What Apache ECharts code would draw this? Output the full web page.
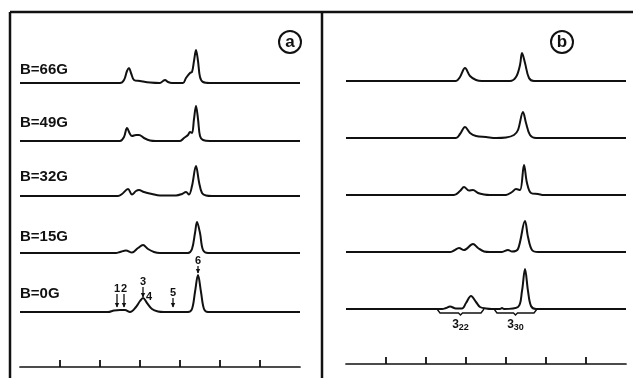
<!DOCTYPE html>
<html><head><meta charset="utf-8">
<script src="https://cdn.jsdelivr.net/npm/echarts@6/dist/echarts.min.js"></script>
<style>html,body{margin:0;padding:0;background:#fff}#c{width:633px;height:378px}</style>
</head><body><div id="c"></div>
<script>
// Field labels (top to bottom)
const fieldLabels = ['B=66G','B=49G','B=32G','B=15G','B=0G'];
// Baseline offsets of each trace (panel a and b), in px-like units above the axis
const offsetsA = [284, 226, 171, 114, 55];
const offsetsB = [283, 226, 169, 112, 55];
// Axis tick positions (arbitrary units)
const tickValues = [1, 2, 3, 4, 5, 6];
// Panel a spectra: [x, intensity]
const specA66 = [[0,0],[2.5,0],[2.6,3],[2.675,12],[2.725,15],[2.775,10],[2.85,3],[3.0,2],[3.25,0.5],[3.5,0],[3.575,2],[3.625,3],[3.7,1],[3.8,0],[4.075,0],[4.15,5],[4.25,10],[4.3,11],[4.35,22],[4.4,33],[4.45,22],[4.5,6],[4.575,1],[4.75,0],[7,0]];
const specA49 = [[0,0],[2.5,0],[2.6,4],[2.675,13],[2.75,7],[2.8,5],[2.9,6],[2.975,6],[3.1,3],[3.25,0.5],[3.4,0],[4.0,0],[4.1,3],[4.2,6],[4.25,9],[4.3,8],[4.35,22],[4.4,35],[4.45,22],[4.5,5],[4.575,1],[4.75,0],[7,0]];
const specA32 = [[0,0],[2.45,0],[2.55,2],[2.7,7],[2.8,1.5],[2.9,5],[2.975,6],[3.1,4],[3.3,2],[3.5,0.5],[3.9,0.5],[4.05,2],[4.15,4],[4.225,1.5],[4.3,10],[4.4,30],[4.475,14],[4.55,3],[4.65,0.5],[4.8,0],[7,0]];
const specA15 = [[0,0],[2.4,0],[2.5,1],[2.65,2.5],[2.8,0.5],[2.95,5],[3.075,8],[3.2,4],[3.35,1],[3.5,0],[4.2,0],[4.3,4],[4.375,20],[4.425,31],[4.5,20],[4.575,3],[4.7,0],[7,0]];
const specA0 = [[0,0],[2.2,0],[2.35,1.5],[2.5,2],[2.625,2],[2.75,0],[2.9,5],[3.0,11],[3.075,14],[3.175,9],[3.3,3],[3.45,0.5],[3.6,0],[4.2,0],[4.3,3],[4.375,20],[4.45,37],[4.525,20],[4.6,3],[4.7,0],[7,0]];
// Panel b spectra
const specB66 = [[0,0],[2.75,0],[2.85,4],[2.975,13],[3.1,5],[3.25,1],[3.4,0],[4.1,0],[4.25,4],[4.35,16],[4.4,28],[4.475,18],[4.575,3],[4.7,0],[7,0]];
const specB49 = [[0,0],[2.75,0],[2.85,4],[2.975,11],[3.1,5],[3.25,2],[3.5,1],[3.75,0],[4.0,0.5],[4.2,3],[4.3,8],[4.425,26],[4.5,15],[4.6,3],[4.75,0],[7,0]];
const specB32 = [[0,0],[2.7,0],[2.85,4],[2.95,8],[3.075,4.5],[3.175,5],[3.3,2],[3.45,0.5],[3.6,0],[4.0,0],[4.15,3],[4.25,6],[4.35,5],[4.45,30],[4.525,12],[4.625,2],[4.8,1],[4.95,0],[7,0]];
const specB15 = [[0,0],[2.6,0],[2.7,1.5],[2.825,4],[2.95,2],[3.175,8],[3.3,4],[3.45,0.5],[3.6,0],[3.9,0],[4.05,2],[4.15,0.5],[4.3,3],[4.475,31],[4.55,15],[4.65,2],[4.8,0],[7,0]];
const specB0 = [[0,0],[2.4,0],[2.5,1],[2.6,2.5],[2.75,0.5],[2.9,0.5],[3.0,6],[3.125,13],[3.25,7],[3.35,2],[3.5,0.5],[3.65,0],[3.85,0],[3.9,1],[3.95,0],[4.3,2],[4.4,18],[4.475,40],[4.55,18],[4.625,3],[4.75,0],[7,0]];
// Peak annotations in panel a (0G trace): [label, x, textY, arrowTop, arrowBottom]
const peakMarks = [['1',2.425,78,73,60],['2',2.6,78,73,60],['3',3.075,85,80,70],['4',3.225,70,null,null],['5',3.825,74,69,60],['6',4.45,106,101,94]];
// Brackets in panel b: [main, sub, xStart, xEnd, yLine, yEnd, yLabel]
const brackets = [['3','22',2.275,3.45,51,55,39],['3','30',3.7,4.775,51,55,39]];

const spectraA = [specA66, specA49, specA32, specA15, specA0];
const spectraB = [specB66, specB49, specB32, specB15, specB0];

const chart = echarts.init(document.getElementById('c'), null, {renderer:'canvas'});
const INK = '#111';
function mkSeries(specs, offs, idx){
  return specs.map((s,i)=>({
    type:'line', xAxisIndex:idx, yAxisIndex:idx, showSymbol:false, smooth:0.35,
    lineStyle:{color:INK, width:2}, silent:true, animation:false,
    data: s.map(p=>[p[0], p[1]+offs[i]])
  }));
}
function xAx(idx){
  return {gridIndex:idx, type:'value', min:0, max:7, interval:1,
    axisLine:{show:true, lineStyle:{color:INK, width:1.7}},
    axisTick:{show:true, inside:true, length:7, customValues:tickValues, lineStyle:{color:INK,width:1.8}},
    axisLabel:{show:false}, splitLine:{show:false}};
}
function yAx(idx){
  return {gridIndex:idx, type:'value', min:0, max:360, show:false};
}
chart.setOption({
  animation:false,
  grid:[{left:20, width:280, top:7, height:360}, {left:346, width:280, top:4, height:360}],
  xAxis:[xAx(0), xAx(1)],
  yAxis:[yAx(0), yAx(1)],
  series:[...mkSeries(spectraA, offsetsA, 0), ...mkSeries(spectraB, offsetsB, 1)]
});

const g = [];
// frame
g.push({type:'line', shape:{x1:10,y1:12,x2:633,y2:12}, style:{stroke:INK,lineWidth:2.5}});
g.push({type:'line', shape:{x1:10,y1:12,x2:10,y2:378}, style:{stroke:INK,lineWidth:2.5}});
g.push({type:'line', shape:{x1:322,y1:12,x2:322,y2:378}, style:{stroke:INK,lineWidth:2.5}});
// panel letters
[['a',290,42],['b',562,42]].forEach(([t,x,y])=>{
  g.push({type:'circle', shape:{cx:x,cy:y,r:11}, style:{fill:'none',stroke:INK,lineWidth:2}});
  g.push({type:'text', x:x, y:y, style:{text:t, font:'bold 17px "Liberation Sans", Arial, sans-serif', fill:INK, align:'center', verticalAlign:'middle'}});
});
// field labels
const labelY = [70, 123, 177, 237, 294];
fieldLabels.forEach((t,i)=>{
  g.push({type:'text', x:20, y:labelY[i], style:{text:t, font:'bold 15px "Liberation Sans", Arial, sans-serif', fill:INK, align:'left', verticalAlign:'middle'}});
});
function px(gi, x, y){ return chart.convertToPixel({gridIndex:gi}, [x,y]); }
// peak markers
peakMarks.forEach(([t,x,ty,a1,a2])=>{
  const p = px(0,x,ty);
  g.push({type:'text', x:p[0], y:p[1], style:{text:t, font:'bold 11px "Liberation Sans", Arial, sans-serif', fill:INK, align:'center', verticalAlign:'middle'}});
  if(a1!==null){
    const s = px(0,x,a1), e = px(0,x,a2);
    g.push({type:'line', shape:{x1:s[0],y1:s[1],x2:e[0],y2:e[1]}, style:{stroke:INK,lineWidth:1.3}});
    g.push({type:'polygon', shape:{points:[[e[0]-2.2,e[1]-4],[e[0]+2.2,e[1]-4],[e[0],e[1]+0.5]]}, style:{fill:INK}});
  }
});
// brackets
brackets.forEach(([m,s,x1,x2,yl,ye,ylab])=>{
  const a = px(1,x1,ye), b = px(1,x1,yl), c = px(1,x2,yl), d = px(1,x2,ye);
  const mid = px(1,(x1+x2)/2,yl);
  g.push({type:'polyline', shape:{points:[a,[b[0]+3,b[1]],[mid[0]-2,mid[1]],[mid[0],mid[1]+2],[mid[0]+2,mid[1]],[c[0]-3,c[1]],d]}, style:{stroke:INK,lineWidth:1.4,fill:'none'}});
  const l = px(1,(x1+x2)/2,ylab);
  g.push({type:'text', x:l[0], y:l[1], style:{text:'{m|'+m+'}{s|'+s+'}', fill:INK, align:'center', verticalAlign:'middle',
    rich:{m:{font:'bold 12px "Liberation Sans", Arial, sans-serif', fill:INK}, s:{font:'bold 9px "Liberation Sans", Arial, sans-serif', fill:INK, padding:[5,0,0,0]}}}});
});
chart.setOption({graphic:{elements:g}});
</script></body></html>
